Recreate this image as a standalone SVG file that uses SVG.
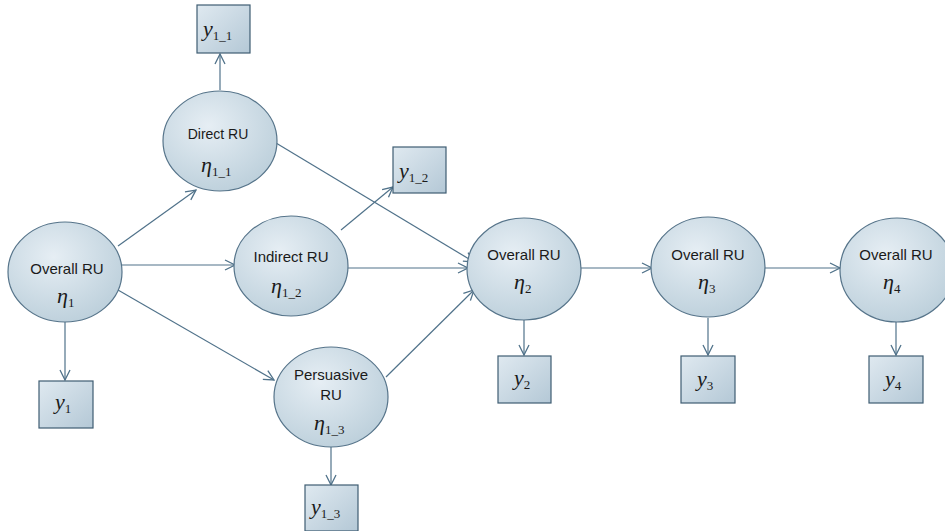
<svg xmlns="http://www.w3.org/2000/svg" width="945" height="531" viewBox="0 0 945 531">
<defs>
<radialGradient id="eg" cx="0.4" cy="0.35" r="0.75">
<stop offset="0" stop-color="#e6eef4"/>
<stop offset="1" stop-color="#b9cdd9"/>
</radialGradient>
<linearGradient id="bg" x1="0" y1="0" x2="1" y2="1">
<stop offset="0" stop-color="#dfe9f0"/>
<stop offset="1" stop-color="#b4c8d6"/>
</linearGradient>
<marker id="ah" viewBox="0 0 12 12" refX="11" refY="6" markerWidth="12" markerHeight="12" markerUnits="userSpaceOnUse" orient="auto">
<path d="M1,1 L11,6 L1,11" fill="none" stroke="#50728a" stroke-width="1.3"/>
</marker>
</defs>
<style>
.n ellipse{fill:url(#eg);stroke:#56748a;stroke-width:1.2}
.b rect{fill:url(#bg);stroke:#3f5d72;stroke-width:1.2}
.lab{font-family:"Liberation Sans",Arial,sans-serif;font-size:15px;fill:#1a1a1a;text-anchor:middle}
.eta{font-family:"Liberation Serif","Times New Roman",serif;font-style:italic;font-size:22px;fill:#1a1a1a}
.sub{font-family:"Liberation Serif","Times New Roman",serif;font-style:normal;font-size:13px}
.c line{stroke:#50728a;stroke-width:1.2;marker-end:url(#ah)}
</style>
<rect width="945" height="531" fill="#ffffff"/>
<g class="c" id="connectors">
<line x1="220" y1="90" x2="220" y2="54"/>
<line x1="65" y1="322" x2="65" y2="380"/>
<line x1="118" y1="246" x2="196" y2="190"/>
<line x1="122" y1="265" x2="235" y2="265"/>
<line x1="118" y1="290" x2="274" y2="380"/>
<line x1="276" y1="143" x2="474" y2="262"/>
<line x1="348" y1="268" x2="468" y2="268"/>
<line x1="341" y1="230" x2="393" y2="187"/>
<line x1="386" y1="377" x2="474" y2="290"/>
<line x1="331" y1="447" x2="331" y2="485"/>
<line x1="581" y1="268" x2="652" y2="268"/>
<line x1="765" y1="268" x2="840" y2="268"/>
<line x1="524" y1="320" x2="524" y2="355"/>
<line x1="708" y1="318" x2="708" y2="355"/>
<line x1="896" y1="322" x2="896" y2="355"/>
</g>
<g id="eta1" class="n"><ellipse cx="65" cy="272" rx="57" ry="50"/><text class="lab" x="67" y="274">Overall RU</text><text class="eta" x="57" y="303">η<tspan class="sub" dy="4">1</tspan></text></g>
<g id="eta1_1" class="n"><ellipse cx="220" cy="141" rx="57" ry="50"/><text class="lab" x="218" y="139" style="font-size:14px">Direct RU</text><text class="eta" x="201" y="172">η<tspan class="sub" dy="4">1_1</tspan></text></g>
<g id="eta1_2" class="n"><ellipse cx="291" cy="266" rx="57" ry="50"/><text class="lab" x="291" y="262">Indirect RU</text><text class="eta" x="271" y="293">η<tspan class="sub" dy="4">1_2</tspan></text></g>
<g id="eta1_3" class="n"><ellipse cx="331" cy="397" rx="57" ry="50"/><text class="lab" x="331" y="380">Persuasive</text><text class="lab" x="331" y="400">RU</text><text class="eta" x="314" y="430">η<tspan class="sub" dy="4">1_3</tspan></text></g>
<g id="eta2" class="n"><ellipse cx="524" cy="269" rx="57" ry="51"/><text class="lab" x="524" y="260">Overall RU</text><text class="eta" x="514" y="289">η<tspan class="sub" dy="4">2</tspan></text></g>
<g id="eta3" class="n"><ellipse cx="708" cy="267" rx="57" ry="50"/><text class="lab" x="708" y="260">Overall RU</text><text class="eta" x="698" y="289">η<tspan class="sub" dy="4">3</tspan></text></g>
<g id="eta4" class="n"><ellipse cx="897" cy="270" rx="57" ry="52"/><text class="lab" x="896" y="260">Overall RU</text><text class="eta" x="883" y="289">η<tspan class="sub" dy="4">4</tspan></text></g>
<g id="y1" class="b"><rect x="39" y="381" width="54" height="47"/><text class="eta" x="55" y="409">y<tspan class="sub" dy="4">1</tspan></text></g>
<g id="y1_1" class="b"><rect x="197" y="5" width="53" height="48"/><text class="eta" x="203" y="36">y<tspan class="sub" dy="4">1_1</tspan></text></g>
<g id="y1_2" class="b"><rect x="393" y="147" width="53" height="46"/><text class="eta" x="399" y="178">y<tspan class="sub" dy="4">1_2</tspan></text></g>
<g id="y1_3" class="b"><rect x="305" y="485" width="53" height="46"/><text class="eta" x="311" y="514">y<tspan class="sub" dy="4">1_3</tspan></text></g>
<g id="y2" class="b"><rect x="498" y="356" width="53" height="47"/><text class="eta" x="514" y="385">y<tspan class="sub" dy="4">2</tspan></text></g>
<g id="y3" class="b"><rect x="681" y="356" width="54" height="47"/><text class="eta" x="697" y="386">y<tspan class="sub" dy="4">3</tspan></text></g>
<g id="y4" class="b"><rect x="869" y="356" width="54" height="47"/><text class="eta" x="885" y="386">y<tspan class="sub" dy="4">4</tspan></text></g>
</svg>
